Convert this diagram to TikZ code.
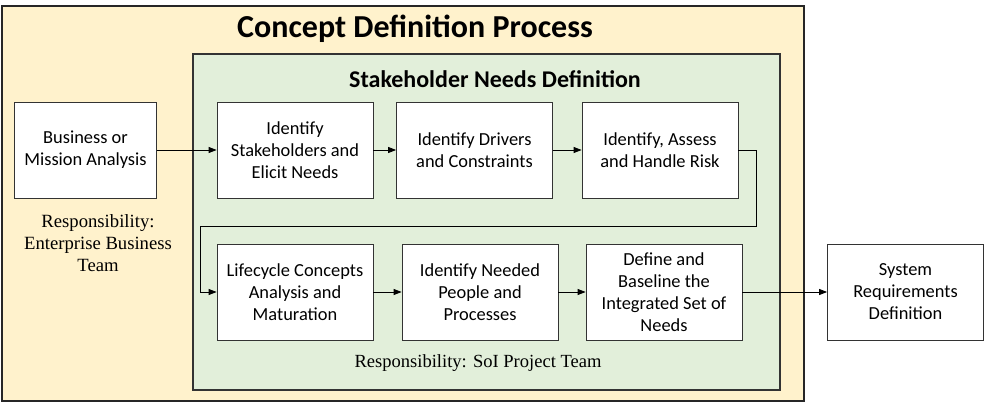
\documentclass[tikz,border=0pt]{standalone}
\usepackage{fontspec}
\setmainfont{Carlito}
\newfontfamily\serifnote{Liberation Serif}
\usepackage{tikz}
\usetikzlibrary{arrows.meta}
\definecolor{conceptbg}{HTML}{FFF2CC}
\definecolor{needsbg}{HTML}{E2EFDA}

\begin{document}
\begin{tikzpicture}[x=0.75pt,y=-0.75pt,
    proc/.style={draw=black!80,fill=white,line width=0.6pt,align=center,
      minimum width=117pt,minimum height=72pt,inner sep=2pt,font=\fontsize{13.8}{16.5}\selectfont},
    flow/.style={-{Triangle[length=6pt,width=4.5pt]},line width=0.6pt},
    note/.style={align=center,font=\serifnote\fontsize{13.9}{16.5}\selectfont}]
  \useasboundingbox (0,0) rectangle (985,403);
  \draw[line width=1.6pt,draw=black!85,fill=conceptbg] (2,6) rectangle (804,401);
  \draw[line width=1.2pt,draw=black!80,fill=needsbg] (193,54) rectangle (780,390);
  \node (title) at (415,29) {\fontsize{24}{28}\selectfont\bfseries Concept Definition Process};
  \node (subtitle) at (495,79) {\fontsize{18}{21}\selectfont\bfseries Stakeholder Needs Definition};
    \node[proc,minimum width=107pt] (biz) at (85.5,150) {Business or\\Mission Analysis};
    \node[proc] (stake) at (295,150) {Identify\\Stakeholders and\\Elicit Needs};
    \node[proc] (drivers) at (474.5,150) {Identify Drivers\\and Constraints};
    \node[proc] (risk) at (660,150) {Identify, Assess\\and Handle Risk};
    \node[proc] (life) at (295,292) {Lifecycle Concepts\\Analysis and\\Maturation};
    \node[proc] (people) at (480,292) {Identify Needed\\People and\\Processes};
    \node[proc] (base) at (664,292) {Define and\\Baseline the\\Integrated Set of\\Needs};
    \node[proc] (sysreq) at (905.5,292) {System\\Requirements\\Definition};
  \node[note,font=\serifnote\fontsize{14}{16.5}\selectfont] (bizteam) at (98,243) {Responsibility:\\Enterprise Business\\Team};
  \node[note] (soiteam) at (478,363) {Responsibility: SoI Project Team};
  \coordinate (loopR) at (756,226);
  \coordinate (loopL) at (200,226);
    \draw[flow] (biz) -- (stake);
    \draw[flow] (stake) -- (drivers);
    \draw[flow] (drivers) -- (risk);
    \draw[flow] (risk.east) -| (loopR) -- (loopL) |- (life.west);
    \draw[flow] (life) -- (people);
    \draw[flow] (people) -- (base);
    \draw[flow] (base) -- (sysreq);
\end{tikzpicture}
\end{document}
